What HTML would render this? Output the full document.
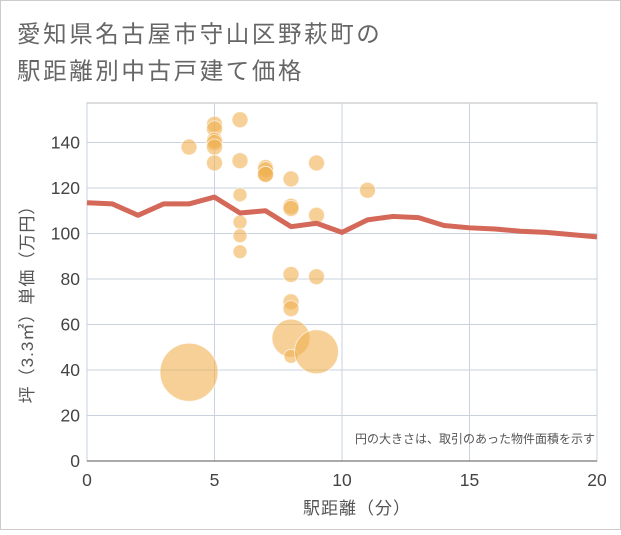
<!DOCTYPE html>
<html><head><meta charset="utf-8"><style>
body{margin:0;background:#fff;}
svg text{font-family:"Liberation Sans","Noto Sans CJK JP",sans-serif;}
</style></head><body>
<svg width="621" height="530" xmlns="http://www.w3.org/2000/svg">
<rect x="0.5" y="0.5" width="620" height="529" fill="#fff" stroke="#ccc"/>
<text x="17" y="42" font-size="23.5" letter-spacing="2.6" fill="#666">愛知県名古屋市守山区野萩町の</text>
<text x="17" y="79" font-size="23.5" letter-spacing="2.6" fill="#666">駅距離別中古戸建て価格</text>
<g id="plot"></g>
<text x="595" y="443" font-size="12" fill="#555" text-anchor="end">円の大きさは、取引のあった物件面積を示す</text>
<text x="357" y="514" font-size="17" letter-spacing="1" fill="#555" text-anchor="middle">駅距離（分）</text>
<text transform="translate(33,300) rotate(-90)" font-size="17" letter-spacing="1" fill="#555" text-anchor="middle">坪（3.3㎡）単価（万円）</text>
</svg>
<script>
const xTicks=[0,5,10,15,20];
const yTicks=[0,20,40,60,80,100,120,140];
const ptX=[4,4,5,5,5,5,5,5,6,6,6,6,6,6,7,7,7,7,8,8,8,8,8,8,8,8,9,9,9,9,11];
const ptY=[138,39,148,146,141,140,138,131,150,132,117,105,99,92,129,128,126,126,124,112,111,82,70,67,54,46,131,108,81,48,119];
const ptR=[8,29,8,8,8,8,8,8,8,8,7,7,7,7,8,8,8,8,8,8,8,8,8,8,19,7,8,8,8,22,8];
const lineX=[0,1,2,3,4,5,6,7,8,9,10,11,12,13,14,15,16,17,18,19,20];
const lineY=[113.5,113,108,113,113,116,109,110,103,104.5,100.5,106,107.5,107,103.5,102.5,102,101,100.5,99.5,98.5];
const L=87,R=597,T=103,B=461;
const sx=v=>L+(v/20)*(R-L);
const sy=v=>B-(v/140)*(B-142.5);
const NS="http://www.w3.org/2000/svg";
const g=document.getElementById('plot');
function mk(t,a){const e=document.createElementNS(NS,t);for(const k in a)e.setAttribute(k,a[k]);g.appendChild(e);return e;}
let bg=mk('rect',{x:L,y:T,width:R-L,height:B-T,fill:'#fff',stroke:'#bbb'});


yTicks.forEach(v=>{
 let l=mk('line',{x1:L,x2:R,y1:sy(v),y2:sy(v),stroke:'#c9d3e0','stroke-width':1});
 
 
 let t=mk('text',{x:L-7,y:sy(v)+6,'font-size':17.5,fill:'#444','text-anchor':'end'});
 t.textContent=v;
 
 
});
xTicks.forEach(v=>{
 let l=mk('line',{x1:sx(v),x2:sx(v),y1:T,y2:B,stroke:'#c9d3e0','stroke-width':1});
 
 
 let t=mk('text',{x:sx(v),y:B+25,'font-size':17.5,fill:'#444','text-anchor':'middle'});
 t.textContent=v;
 
 
});
let ax=mk('line',{x1:L,x2:R,y1:B,y2:B,stroke:'#555','stroke-width':1});


ptX.forEach((x,i)=>{
 let c=mk('circle',{cx:sx(x),cy:sy(ptY[i]),r:ptR[i],fill:'rgba(240,176,80,0.6)',stroke:'rgba(255,255,255,0.6)','stroke-width':1});
 
 
});
let d=lineX.map((x,i)=>(i?'L':'M')+sx(x)+','+sy(lineY[i])).join(' ');
let p=mk('path',{d:d,fill:'none',stroke:'#d4695a','stroke-width':5,'stroke-linejoin':'round'});


</script>
</body></html>
